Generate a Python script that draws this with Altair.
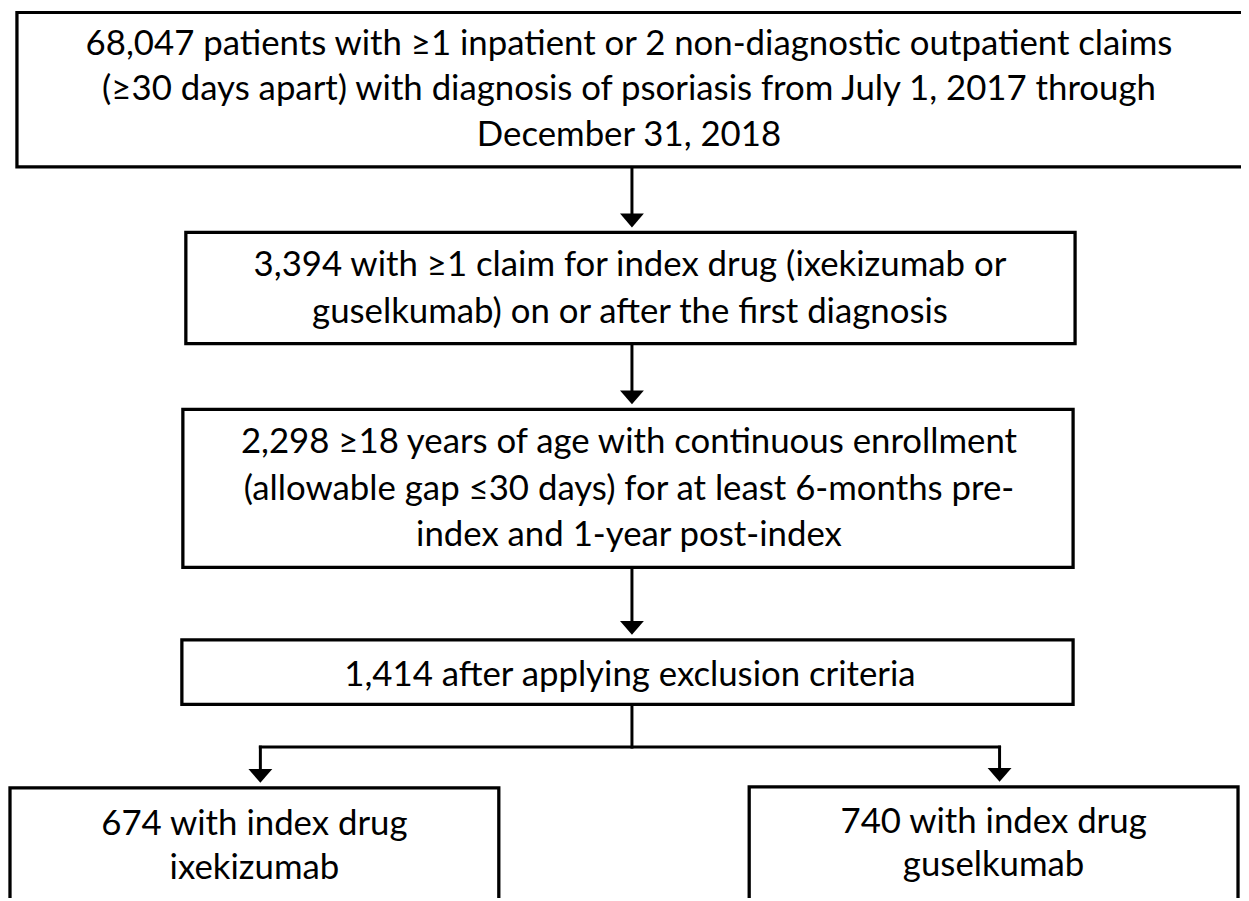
import altair as alt
import pandas as pd

# ---------------- content ----------------
box_names = ["identified", "index_drug", "enrolled", "final", "ixekizumab", "guselkumab"]
box_lines = [
    ["68,047 patients with \u22651 inpatient or 2 non-diagnostic outpatient claims",
     "(\u226530 days apart) with diagnosis of psoriasis from July 1, 2017 through",
     "December 31, 2018"],
    ["3,394 with \u22651 claim for index drug (ixekizumab or",
     "guselkumab) on or after the first diagnosis"],
    ["2,298 \u226518 years of age with continuous enrollment",
     "(allowable gap \u226430 days) for at least 6-months pre-",
     "index and 1-year post-index"],
    ["1,414 after applying exclusion criteria"],
    ["674 with index drug", "ixekizumab"],
    ["740 with index drug", "guselkumab"],
]
# flow: (from box, to box)
links = [("identified", "index_drug"), ("index_drug", "enrolled"),
         ("enrolled", "final"), ("final", "ixekizumab"), ("final", "guselkumab")]

# ---------------- layout (page pixels) ----------------
box_left = [17, 187, 184, 183, 10, 754]
box_right = [1258, 1082, 1080, 1080, 502, 1246]
box_top = [9.5, 231, 409, 641, 790, 789]
box_bottom = [165, 343, 568, 706, 960, 960]
text_cx = [633, 634, 633, 634, 256, 1000]
first_base = [52, 275, 453, 687, 837, 835]
line_gap = [46, 47, 47, 47, 45, 44]
branch_x = [262, 1006]
branch_y = 749
main_x = 636
head_w, head_h, gap = 24, 14, 5

boxes = pd.DataFrame({"name": box_names, "x": box_left, "x2": box_right,
                      "y": box_top, "y2": box_bottom})

rows = []
for i, lines in enumerate(box_lines):
    for j, t in enumerate(lines):
        rows.append({"x": text_cx[i], "y": first_base[i] + j * line_gap[i], "text": t})
texts = pd.DataFrame(rows)

idx = {n: i for i, n in enumerate(box_names)}
segs, heads = [], []
for a, b in links:
    ia, ib = idx[a], idx[b]
    tip = box_top[ib] - gap
    if b in ("ixekizumab", "guselkumab"):
        bx = branch_x[0] if b == "ixekizumab" else branch_x[1]
        segs.append({"x": bx, "y": branch_y, "x2": bx, "y2": tip - head_h + 1})
        heads.append({"x": bx, "y": tip - head_h / 2})
    else:
        segs.append({"x": main_x, "y": box_bottom[ia], "x2": main_x, "y2": tip - head_h + 1})
        heads.append({"x": main_x, "y": tip - head_h / 2})
segs.append({"x": main_x, "y": box_bottom[idx["final"]], "x2": main_x, "y2": branch_y})
segs.append({"x": branch_x[0], "y": branch_y, "x2": branch_x[1], "y2": branch_y})
segs = pd.DataFrame(segs)
heads = pd.DataFrame(heads)

X0, X1 = 8, 1249
Y0, Y1 = 8, 901
W, H = X1 - X0, Y1 - Y0
xs = alt.Scale(domain=[X0, X1], zero=False, nice=False)
ys = alt.Scale(domain=[Y0, Y1], zero=False, nice=False, reverse=True)

def X(f="x"):
    return alt.X(f"{f}:Q", scale=xs, axis=None)

def Y(f="y"):
    return alt.Y(f"{f}:Q", scale=ys, axis=None)

rect_layer = alt.Chart(boxes).mark_rect(
    fill="white", stroke="black", strokeWidth=3.3, strokeJoin="miter", clip=True
).encode(x=X(), x2="x2:Q", y=Y(), y2="y2:Q")

line_layer = alt.Chart(segs).mark_rule(
    color="black", strokeWidth=3, strokeCap="square"
).encode(x=X(), x2="x2:Q", y=Y(), y2="y2:Q")

head_layer = alt.Chart(heads).mark_point(
    shape="M-1,-0.583L1,-0.583L0,0.583Z", size=head_w * head_w, filled=True,
    color="black", opacity=1, strokeWidth=0
).encode(x=X(), y=Y())

text_layer = alt.Chart(texts).mark_text(
    font="Lato", fontSize=35, color="black", align="center", baseline="alphabetic"
).encode(x=X(), y=Y(), text="text:N")

chart = alt.layer(line_layer, head_layer, rect_layer, text_layer).properties(
    width=W, height=H, padding=0, autosize=alt.AutoSizeParams(type="none"),
    background="white"
).configure_view(stroke=None)

chart.save("out.html", embed_options={"renderer": "svg", "actions": False})
